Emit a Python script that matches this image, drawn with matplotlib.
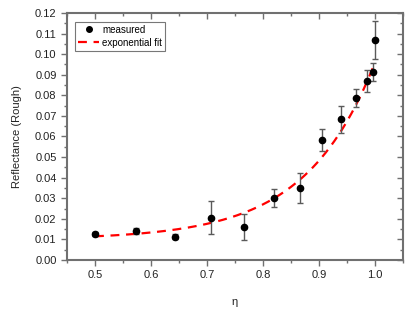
import numpy as np
import matplotlib
matplotlib.use("Agg")
import matplotlib.pyplot as plt
from matplotlib.ticker import MultipleLocator
from matplotlib.lines import Line2D

plt.rcParams['font.family'] = ['Liberation Sans', 'DejaVu Sans']

# measured data
eta = [0.500, 0.574, 0.643, 0.707, 0.766, 0.819, 0.866, 0.906, 0.940, 0.966, 0.985, 0.996, 1.000]
refl = [0.0126, 0.0139, 0.0113, 0.0206, 0.0159, 0.0300, 0.0350, 0.0583, 0.0683, 0.0786, 0.0868, 0.0914, 0.1067]
err = [0.0008, 0.0015, 0.0013, 0.0080, 0.0063, 0.0044, 0.0075, 0.0055, 0.0066, 0.0044, 0.0053, 0.0043, 0.0092]

# exponential fit parameters  y = y0 + A*exp(x/t)
fit_y0 = 0.0100
fit_A = 2.61e-5
fit_t = 1 / 8.1
fit_range = [0.5, 1.0]

spine_c = '#707070'

fig = plt.figure(figsize=(4.15, 3.10), dpi=100)
ax = fig.add_axes([0.1614, 0.1613, 0.8096, 0.7968])

xf = np.linspace(fit_range[0], fit_range[1], 200)
yf = fit_y0 + fit_A * np.exp(xf / fit_t)
ax.plot(xf, yf, color='#ff0000', lw=1.6, dashes=(4, 3), zorder=2)

ax.errorbar(eta, refl, yerr=err, fmt='o', color='black', ms=4.5,
            ecolor='#5a5a5a', elinewidth=1.0, capsize=2.2, capthick=1.0,
            zorder=3)

ax.set_xlim(0.45, 1.05)
ax.set_ylim(0.0, 0.12)
ax.xaxis.set_major_locator(MultipleLocator(0.1))
ax.xaxis.set_minor_locator(MultipleLocator(0.05))
ax.yaxis.set_major_locator(MultipleLocator(0.01))
ax.yaxis.set_minor_locator(MultipleLocator(0.005))
ax.set_xticks([0.5, 0.6, 0.7, 0.8, 0.9, 1.0])
ax.set_xticklabels(['0.5', '0.6', '0.7', '0.8', '0.9', '1.0'])
ax.yaxis.set_major_formatter(plt.FuncFormatter(lambda v, p: f'{v:.2f}'))

for s in ax.spines.values():
    s.set_color(spine_c)
    s.set_linewidth(1.5)

ax.tick_params(which='both', direction='out', colors=spine_c, labelcolor='#222222',
               labelsize=8, top=False, right=False)
ax.tick_params(which='major', length=4, width=1)
ax.tick_params(which='minor', length=2.5, width=1)

# mirrored inward ticks on top/right
ax2 = ax.secondary_xaxis('top')
ax2.set_xticks([0.5, 0.6, 0.7, 0.8, 0.9, 1.0])
ax2.xaxis.set_minor_locator(MultipleLocator(0.05))
ax2.tick_params(which='both', direction='in', colors=spine_c, labeltop=False, width=1)
ax2.tick_params(which='major', length=4)
ax2.tick_params(which='minor', length=2.5)
ax2.spines['top'].set_visible(False)
ax3 = ax.secondary_yaxis('right')
ax3.yaxis.set_major_locator(MultipleLocator(0.01))
ax3.yaxis.set_minor_locator(MultipleLocator(0.005))
ax3.tick_params(which='both', direction='in', colors=spine_c, labelright=False, width=1)
ax3.tick_params(which='major', length=4)
ax3.tick_params(which='minor', length=2.5)
ax3.spines['right'].set_visible(False)

ax.set_xlabel('η', fontsize=8, color='#222222', labelpad=12)
ax.set_ylabel('Reflectance (Rough)', fontsize=8, color='#222222', labelpad=9)

handles = [Line2D([], [], ls='none', marker='o', color='black', ms=4),
           Line2D([], [], color='#ff0000', lw=1.6, dashes=(4, 3))]
labels = ['measured', 'exponential fit']
leg = ax.legend(handles, labels, loc='upper left', bbox_to_anchor=(0.024, 0.964),
                borderaxespad=0, fontsize=7, frameon=True, fancybox=False,
                handlelength=2.2, handletextpad=0.3, borderpad=0.3, labelspacing=0.3)
leg.get_frame().set_edgecolor('#555555')
leg.get_frame().set_linewidth(0.8)

fig.savefig('out.png', dpi=100)
